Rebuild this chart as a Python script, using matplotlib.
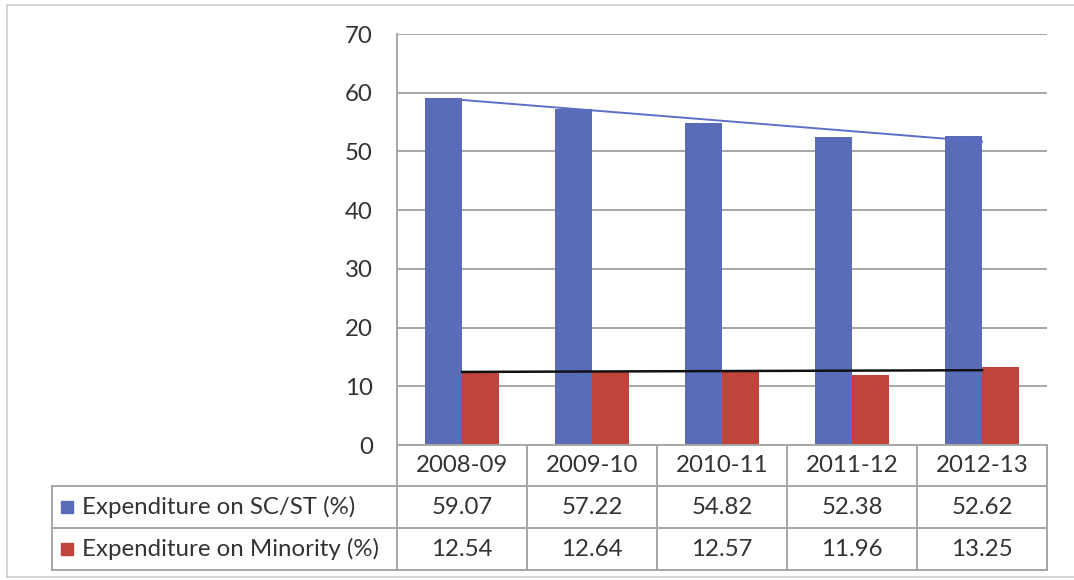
import matplotlib.pyplot as plt
import numpy as np

plt.rcParams['font.family'] = ['Lato', 'DejaVu Sans']

years = ['2008-09', '2009-10', '2010-11', '2011-12', '2012-13']
sc_st = [59.07, 57.22, 54.82, 52.38, 52.62]
minority = [12.54, 12.64, 12.57, 11.96, 13.25]
series_names = ['Expenditure on SC/ST (%)', 'Expenditure on Minority (%)']

BLUE = '#5a6bb8'
RED = '#c0443c'
GRID = '#a6a6a6'
TXT = '#333333'
FS = 17.3

W, H = 1074, 580
fig = plt.figure(figsize=(W / 100, H / 100), dpi=100)

# plot area in pixels
PL, PR, PT, PB = 397, 1047, 34, 445
ax = fig.add_axes([PL / W, 1 - PB / H, (PR - PL) / W, (PB - PT) / H])

x = np.arange(len(years))
bw = 0.285
ax.bar(x - bw / 2, sc_st, bw, color=BLUE, zorder=2)
ax.bar(x + bw / 2, minority, bw, color=RED, zorder=2)

# linear trend lines over both series
for vals, col, lw in [(sc_st, '#5e6ec8', 1.4), (minority, '#111111', 1.8)]:
    k, b = np.polyfit(x, vals, 1)
    ax.plot([x[0], x[-1]], [k * x[0] + b, k * x[-1] + b], color=col, lw=lw, zorder=3)

ax.set_xlim(-0.5, len(years) - 0.5)
ax.set_ylim(0, 70)
ax.set_yticks(range(0, 71, 10))
ax.set_yticklabels([str(v) for v in range(0, 71, 10)], fontsize=FS, color=TXT)
ax.tick_params(axis='y', length=0, pad=17.5)
ax.set_xticks([])
ax.grid(axis='y', color=GRID, lw=1.4, zorder=1)
for s in ['top', 'right', 'bottom']:
    ax.spines[s].set_visible(False)
ax.spines['left'].set_color(GRID)
ax.spines['left'].set_linewidth(1.4)

# data table drawn in pixel coordinates on an overlay
ov = fig.add_axes([0, 0, 1, 1])
ov.set_xlim(0, W)
ov.set_ylim(H, 0)
ov.axis('off')

# outer chart frame
ov.plot([7, 7, W + 5], [H - 3, 5, 5], color='#cccccc', lw=1.2)
ov.plot([7, W + 5], [H - 3, H - 3], color='#cccccc', lw=1.2)

col_w = (PR - PL) / len(years)
cols = [PL + i * col_w for i in range(len(years) + 1)]
rows = [PB, 486, 528, 570]
LX = 52
lc = dict(color=GRID, lw=1.4)

ov.plot([PL, PR], [rows[0], rows[0]], **lc)
for r in rows[1:]:
    ov.plot([LX, PR], [r, r], **lc)
for c in cols:
    ov.plot([c, c], [rows[0], rows[-1]], **lc)
ov.plot([LX, LX], [rows[1], rows[-1]], **lc)

for i, yr in enumerate(years):
    cx = (cols[i] + cols[i + 1]) / 2
    ov.text(cx, (rows[0] + rows[1]) / 2, yr, ha='center', va='center', fontsize=FS, color=TXT)
    ov.text(cx, (rows[1] + rows[2]) / 2, f'{sc_st[i]:.2f}', ha='center', va='center', fontsize=FS, color=TXT)
    ov.text(cx, (rows[2] + rows[3]) / 2, f'{minority[i]:.2f}', ha='center', va='center', fontsize=FS, color=TXT)

for j, (name, col) in enumerate(zip(series_names, [BLUE, RED])):
    cy = (rows[j + 1] + rows[j + 2]) / 2
    ov.add_patch(plt.Rectangle((61, cy - 6), 12, 12, color=col))
    ov.text(82, cy, name, ha='left', va='center', fontsize=FS, color=TXT)

fig.savefig('out.png', dpi=100)
